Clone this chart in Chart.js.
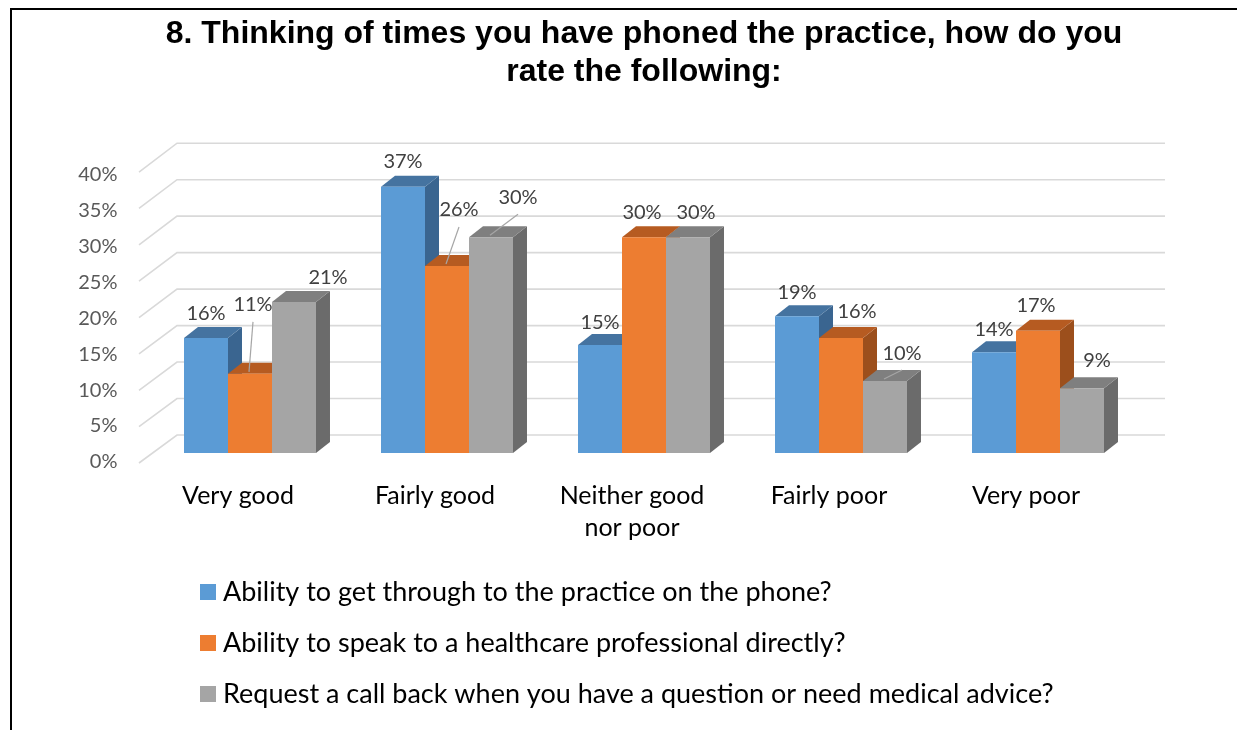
<!DOCTYPE html>
<html>
<head>
<meta charset="utf-8">
<title>Phoning the practice</title>
<script src="https://cdn.jsdelivr.net/npm/chart.js@4.4.0/dist/chart.umd.min.js"></script>
<style>
  html, body { margin: 0; padding: 0; background: #fff; overflow: hidden; }
  #frame {
    position: absolute; left: 10px; top: 8px; width: 1300px; height: 760px;
    border-left: 2px solid #000; border-top: 2px solid #000;
  }
  #wrap { position: absolute; left: 12px; top: 10px; width: 1225px; height: 720px; }
</style>
</head>
<body>
<div id="frame"></div>
<div id="wrap"><canvas id="chart"></canvas></div>
<script>
var titleLines = [
  '8. Thinking of times you have phoned the practice, how do you',
  'rate the following:'
];
var categories = ['Very good', 'Fairly good', ['Neither good', 'nor poor'], 'Fairly poor', 'Very poor'];
var seriesNames = [
  'Ability to get through to the practice on the phone?',
  'Ability to speak to a healthcare professional directly?',
  'Request a call back when you have a question or need medical advice?'
];
var getThrough = [16, 37, 15, 19, 14];
var speakToProfessional = [11, 26, 30, 16, 17];
var callBack = [21, 30, 30, 10, 9];
var yMax = 40;
var yStep = 5;

// front / top / side shades for each series
var faceColors = [
  { front: '#5b9bd5', top: '#4573a0', side: '#3a6590' },
  { front: '#ed7d31', top: '#b65b21', side: '#9c4f1c' },
  { front: '#a5a5a5', top: '#7f7f7f', side: '#6b6b6b' }
];

// hand-placed value labels: shift from the bar centre / bar top, and whether a leader line is drawn
var labelShiftX = [
  [0, 0, 0, 0, 0],
  [3, 12, -2, 16, -2],
  [34, 27, 8, 17, 15]
];
var labelShiftY = [
  [-24, -25, -23, -24, -23],
  [-69, -56, -25, -26, -25],
  [-24, -40, -25, -28, -28]
];
var labelLeader = [
  [false, false, false, false, false],
  [true, true, false, false, false],
  [false, true, false, true, false]
];

var DEPTH_X = 14;
var DEPTH_Y = -11;

var LABEL_FONT = 'Lato, "Noto Sans", sans-serif';

var threeD = {
  id: 'threeD',
  beforeDatasetsDraw: function (chart) {
    var ctx = chart.ctx;
    var area = chart.chartArea;
    var y = chart.scales.y;
    var zero = y.getPixelForValue(0);

    // back wall + left wall grid
    ctx.save();
    ctx.strokeStyle = '#d9d9d9';
    ctx.lineWidth = 1.6;
    for (var v = 0; v <= yMax; v += yStep) {
      var p = y.getPixelForValue(v);
      var frontY = zero + 10 + (p - zero) * 1.011;
      var backY = zero - 18 + (p - zero) * 1.014;
      ctx.beginPath();
      ctx.moveTo(area.left - 12.5, frontY);
      ctx.lineTo(area.left + 25.5, backY);
      ctx.lineTo(area.right + 28.5, backY);
      ctx.stroke();
    }
    ctx.restore();

    // side and top faces, left to right inside each group
    var metas = chart.getSortedVisibleDatasetMetas();
    for (var j = 0; j < categories.length; ++j) {
      for (var i = 0; i < metas.length; ++i) {
        var bar = metas[i].data[j];
        var c = faceColors[metas[i].index];
        var l = bar.x - bar.width / 2;
        var r = bar.x + bar.width / 2;
        var top = bar.y;
        var base = bar.base;
        ctx.save();
        ctx.fillStyle = c.side;
        ctx.beginPath();
        ctx.moveTo(r, top);
        ctx.lineTo(r + DEPTH_X, top + DEPTH_Y);
        ctx.lineTo(r + DEPTH_X, base + DEPTH_Y);
        ctx.lineTo(r, base);
        ctx.closePath();
        ctx.fill();
        ctx.fillStyle = c.top;
        ctx.beginPath();
        ctx.moveTo(l, top);
        ctx.lineTo(r, top);
        ctx.lineTo(r + DEPTH_X, top + DEPTH_Y);
        ctx.lineTo(l + DEPTH_X, top + DEPTH_Y);
        ctx.closePath();
        ctx.fill();
        ctx.restore();
      }
    }
  },
  afterDatasetsDraw: function (chart) {
    var ctx = chart.ctx;
    var metas = chart.getSortedVisibleDatasetMetas();
    ctx.save();
    ctx.font = '20px ' + LABEL_FONT;
    ctx.textAlign = 'center';
    ctx.textBaseline = 'middle';
    for (var i = 0; i < metas.length; ++i) {
      var s = metas[i].index;
      var values = chart.data.datasets[s].data;
      for (var j = 0; j < metas[i].data.length; ++j) {
        var bar = metas[i].data[j];
        var lx = bar.x + labelShiftX[s][j];
        var ly = bar.y + labelShiftY[s][j];
        if (labelLeader[s][j]) {
          ctx.strokeStyle = '#a6a6a6';
          ctx.lineWidth = 1.2;
          ctx.beginPath();
          ctx.moveTo(lx, ly + 17);
          ctx.lineTo(bar.x - 1, bar.y - 2);
          ctx.stroke();
        }
        ctx.fillStyle = '#404040';
        ctx.fillText(values[j] + '%', lx, ly);
      }
    }
    ctx.restore();
  },
  afterDraw: function (chart) {
    // legend, one series per row
    var ctx = chart.ctx;
    var area = chart.chartArea;
    ctx.save();
    ctx.font = '27px ' + LABEL_FONT;
    ctx.textBaseline = 'middle';
    ctx.textAlign = 'left';
    chart.data.datasets.forEach(function (ds, i) {
      var rowY = area.bottom + 139 + 51 * i;
      ctx.fillStyle = ds.backgroundColor;
      ctx.fillRect(188, rowY - 8, 16, 16);
      ctx.fillStyle = '#000';
      ctx.fillText(ds.label, 211, rowY);
    });
    ctx.restore();
  }
};

var datasets = [getThrough, speakToProfessional, callBack].map(function (values, i) {
  return {
    label: seriesNames[i],
    data: values,
    backgroundColor: faceColors[i].front,
    borderWidth: 0,
    barPercentage: 1,
    categoryPercentage: 0.67
  };
});

new Chart(document.getElementById('chart'), {
  type: 'bar',
  data: { labels: categories, datasets: datasets },
  plugins: [threeD],
  options: {
    responsive: true,
    maintainAspectRatio: false,
    animation: false,
    layout: { padding: { left: 0, right: 100.5, top: 0, bottom: 157 } },
    plugins: {
      legend: { display: false },
      tooltip: { enabled: false },
      title: {
        display: true,
        text: titleLines,
        fullSize: false,
        color: '#000',
        font: { family: '"Liberation Sans", Arial, sans-serif', size: 32, weight: 'bold', lineHeight: 1.16 },
        padding: { top: 6, bottom: 75 }
      }
    },
    scales: {
      x: {
        grid: { display: false, drawTicks: false },
        border: { display: false },
        ticks: {
          color: '#000',
          font: { family: LABEL_FONT, size: 25, lineHeight: 1.28 },
          padding: 27,
          labelOffset: -12,
          maxRotation: 0,
          autoSkip: false
        },
        afterFit: function (scale) { scale.height = 120; }
      },
      y: {
        min: 0,
        max: yMax,
        grid: { display: false, drawTicks: false },
        border: { display: false },
        ticks: {
          stepSize: yStep,
          color: '#595959',
          font: { family: LABEL_FONT, size: 20 },
          padding: 34,
          labelOffset: 9,
          callback: function (v) { return v + '%'; }
        },
        afterFit: function (scale) { scale.width = 139.5; }
      }
    }
  }
});
</script>
</body>
</html>
